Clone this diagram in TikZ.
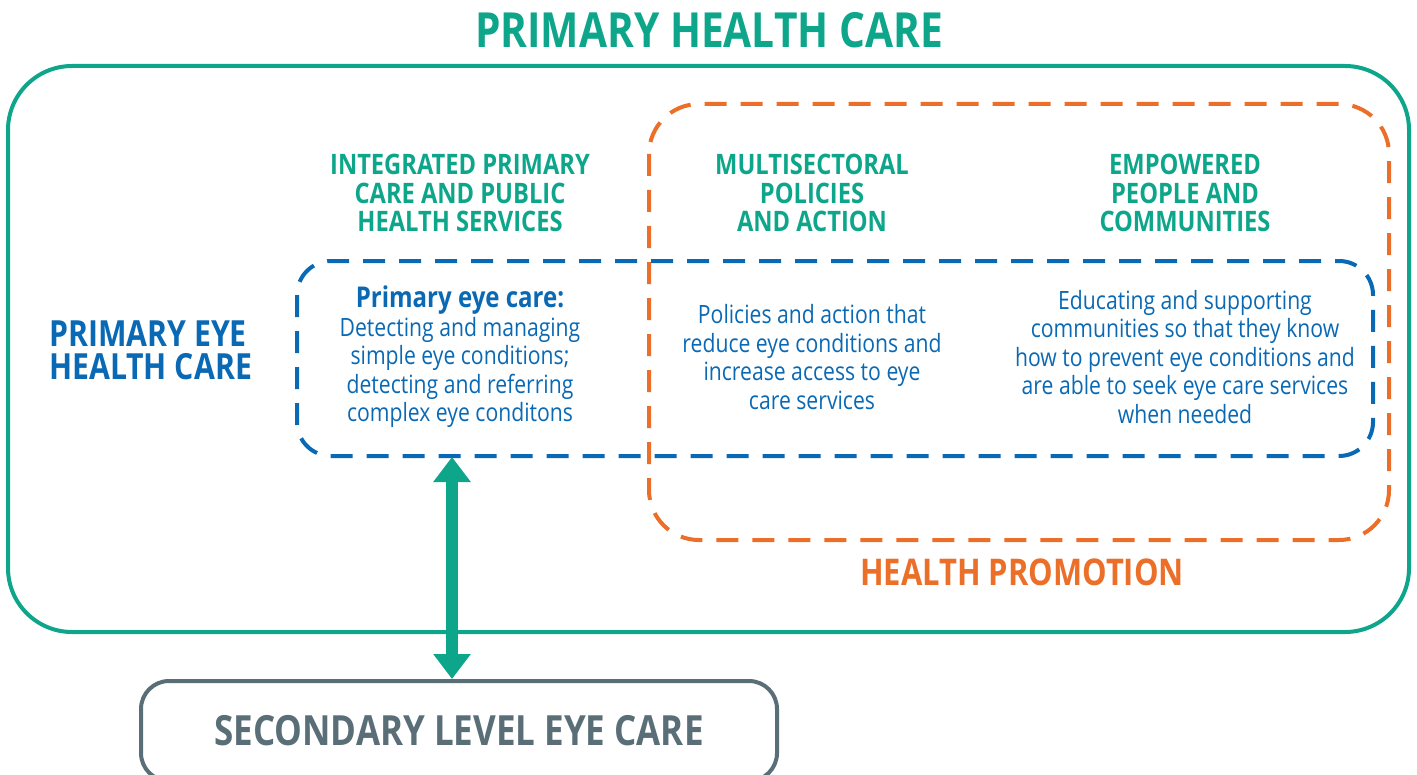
\documentclass[tikz,border=0pt]{standalone}
\usepackage{fontspec}
\setmainfont[FakeStretch=0.84]{Open Sans}
\usetikzlibrary{arrows.meta}
\definecolor{phcgreen}{HTML}{0DA68A}
\definecolor{eyeblue}{HTML}{0A69B4}
\definecolor{promorange}{HTML}{EC6F29}
\definecolor{secgrey}{HTML}{5A6E78}

\begin{document}
\begin{tikzpicture}[x=0.5pt, y=-0.5pt,
  head/.style = {text=phcgreen, font=\bfseries\fontsize{14.1}{14.25}\selectfont, align=center},
  body/.style = {text=eyeblue, font=\fontsize{12.6}{14.25}\selectfont, align=center},
  big/.style = {font=\bfseries\fontsize{17.8}{15.5}\selectfont},
  dashbox/.style = {line width=2pt, dash pattern=on 11pt off 7pt}]
\clip (0,0) rectangle (1417,775);

% boxes
\draw[phcgreen, line width=2pt, rounded corners=32pt] (8,66) rectangle (1409,632);
\draw[promorange, dashbox, rounded corners=25pt] (649,104) rectangle (1389,540);
\draw[eyeblue, dashbox, rounded corners=17pt] (297,261) rectangle (1373,456);
\node[draw=secgrey, line width=2pt, rounded corners=14pt, minimum width=318pt, minimum height=50pt,
  text=secgrey, font=\bfseries\fontsize{20.8}{22}\selectfont] (sec) at (459,731) {SECONDARY LEVEL EYE CARE};

% titles
\node[big, text=phcgreen, font=\bfseries\fontsize{24.2}{26}\selectfont] (phc) at (709,30) {PRIMARY HEALTH CARE};
\node[big, text=eyeblue, anchor=west, align=left, font=\bfseries\fontsize{18}{16.5}\selectfont] (peh) at (42,350) {PRIMARY EYE\\HEALTH CARE};
\node[big, text=promorange, font=\bfseries\fontsize{18.4}{20}\selectfont] (hp) at (1022,572) {HEALTH PROMOTION};

% column headings
\node[head] (h1) at (460,193) {INTEGRATED PRIMARY\\CARE AND PUBLIC\\HEALTH SERVICES};
\node[head] (h2) at (812,193) {MULTISECTORAL\\POLICIES\\AND ACTION};
\node[head] (h3) at (1185,193) {EMPOWERED\\PEOPLE AND\\COMMUNITIES};

% column texts
\node[body] (t1) at (460,357) {{\bfseries\fontsize{14.3}{14.25}\selectfont Primary eye care:}\\Detecting and managing\\simple eye conditions;\\detecting and referring\\complex eye conditons};
\node[body] (t2) at (812,357) {Policies and action that\\reduce eye conditions and\\increase access to eye\\care services};
\node[body] (t3) at (1185,357) {Educating and supporting\\communities so that they know\\how to prevent eye conditions and\\are able to seek eye care services\\when needed};

% referral arrow
\coordinate (eyebot) at (452,457);
\draw[phcgreen, line width=6pt, {Triangle[width=18pt,length=12.5pt]}-{Triangle[width=18pt,length=12.5pt]}]
  (eyebot) -- (eyebot |- sec.north);
\end{tikzpicture}
\end{document}
